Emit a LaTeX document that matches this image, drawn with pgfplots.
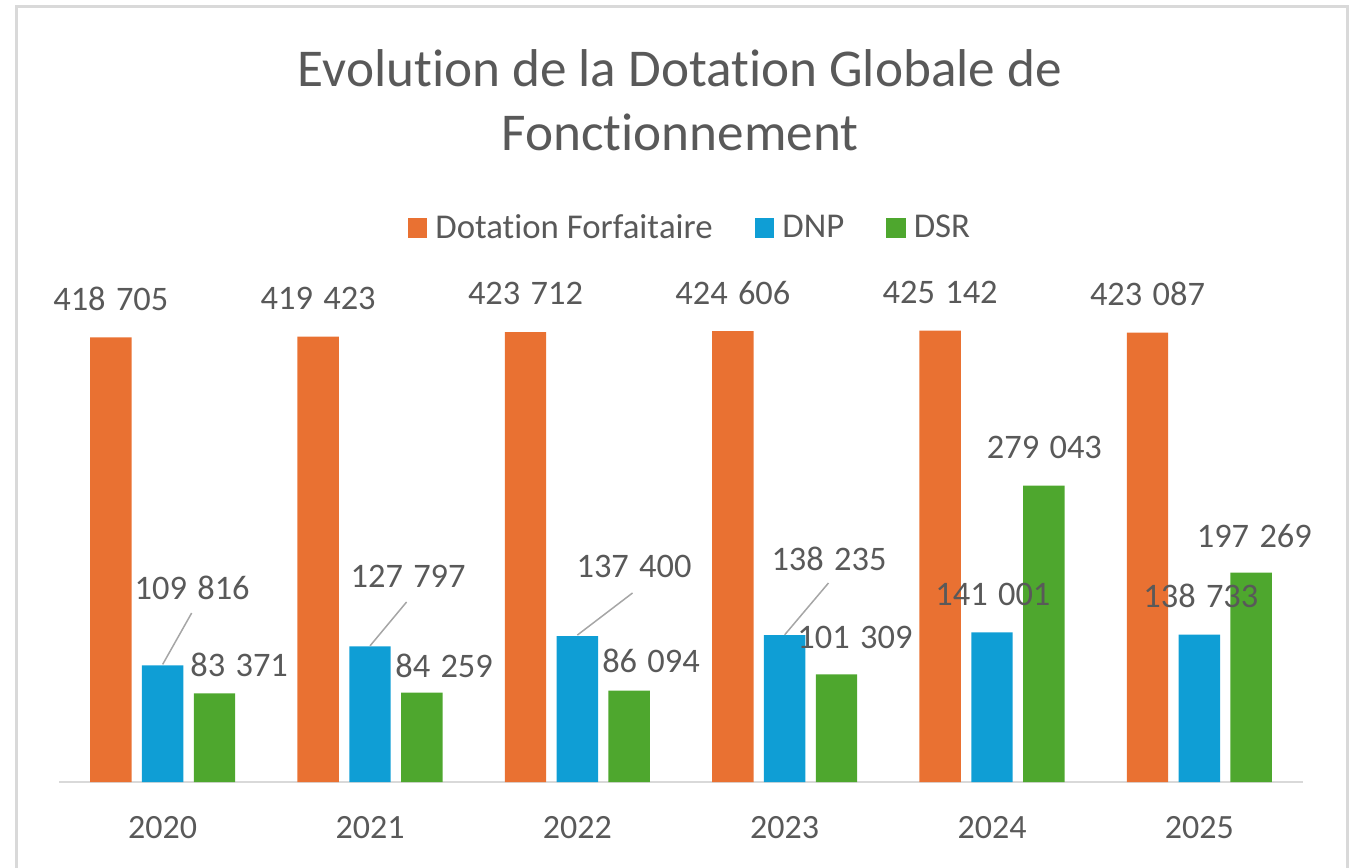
\documentclass[border=0pt]{standalone}
\usepackage{fontspec}
\setmainfont{Carlito}[Ligatures={NoCommon,NoContextual,NoRare}]
\usepackage{pgfplots}
\usepackage{pgfplotstable}
\pgfplotsset{compat=1.18}
\definecolor{dforange}{HTML}{E97132}
\definecolor{dnpblue}{HTML}{0F9ED5}
\definecolor{dsrgreen}{HTML}{4EA72E}
\definecolor{txt}{HTML}{595959}
\definecolor{framegray}{HTML}{D9D9D9}
\definecolor{leadergray}{HTML}{A6A6A6}

% offsets dx, dy of the data labels in px (1px = 0.5pt), from the bar top
\pgfplotstableread{
x y dx dy
0 418705 0 38.5
1 419423 0 38.5
2 423712 0 38.5
3 424606 0 38.5
4 425142 0 38.5
5 423087 0 38.5
}\dataDF
\pgfplotstableread{
x y dx dy
0 109816 29.5 77.9
1 127797 38.1 70.3
2 137400 56.7 70.1
3 138235 44.3 76.7
4 141001 0.9 38.3
5 138733 1.5 38.7
}\dataDNP
\pgfplotstableread{
x y dx dy
0 83371 24.65 29
1 84259 22.25 26.5
2 86094 21.85 29.6
3 101309 18.45 36.9
4 279043 0.55 38.2
5 197269 3.15 36.5
}\dataDSR

\begin{document}
\begin{tikzpicture}[x=1pt,y=1pt]
\useasboundingbox (0,0) rectangle (676,-433.5);
\clip (0,0) rectangle (676,-433.5);
\draw[framegray, line width=1.5pt] (8,-450) -- (8,-3) -- (673.5,-3) -- (673.5,-450);
\node[anchor=base, font=\fontsize{26.6}{32}\selectfont, text=txt, inner sep=0pt] at (340,-43.35) {Evolut\kern0pt ion de la Dotat\kern0pt ion Globale de};
\node[anchor=base, font=\fontsize{26.6}{32}\selectfont, text=txt, inner sep=0pt] at (340,-75) {Fonctionnement};
\begin{axis}[
  at={(29.5pt,-391pt)}, anchor=south west,
  scale only axis, width=622pt, height=238.95pt,
  xmin=-0.5, xmax=5.5, ymin=0, ymax=450000,
  axis y line=none, axis x line*=bottom,
  x axis line style={draw=framegray, line width=1.2pt},
  xtick={0,1,2,3,4,5}, xticklabels={2020,2021,2022,2023,2024,2025},
  major tick length=0pt,
  xticklabel style={font=\fontsize{17}{20}\selectfont, text=txt, anchor=center, yshift=-22.75pt},
  ybar, bar width=0.2,
  clip=false,
  /pgf/number format/.cd, fixed, precision=0, assume math mode=true, 1000 sep={\hspace{0.3em}},
  /pgfplots/.cd,
  legend style={at={(0.5064,1.159)}, anchor=center, draw=none, fill=none,
    legend columns=3, font=\fontsize{17.4}{20}\selectfont, text=txt,
    nodes={inner sep=0pt},
    /tikz/every odd column/.append style={column sep=4pt},
    /tikz/every even column/.append style={column sep=21pt}},
  legend image code/.code={\fill[#1] (0pt,-4.9pt) rectangle (9.8pt,4.9pt);},
]
\addplot[fill=dforange, draw=none, bar shift=-0.25] table[x=x,y=y]{\dataDF};
\addplot[fill=dnpblue, draw=none, bar shift=0] table[x=x,y=y]{\dataDNP};
\addplot[fill=dsrgreen, draw=none, bar shift=0.25] table[x=x,y=y]{\dataDSR};
\legend{Dotat\kern0pt ion Forfait\kern0pt aire, DNP, DSR}
% data labels
\addplot[draw=none, fill=none, bar shift=0, forget plot,
  visualization depends on={\thisrow{dx} \as \dx},
  visualization depends on={\thisrow{dy} \as \dy},
  nodes near coords,
  every node near coord/.style={anchor=center, xshift=\dx*0.5pt, yshift=\dy*0.5pt, text=txt, font=\fontsize{17.2}{20}\selectfont}]
  table[x expr=\thisrow{x}-0.25,y=y]{\dataDF};
\addplot[draw=none, fill=none, bar shift=0, forget plot,
  visualization depends on={\thisrow{dx} \as \dx},
  visualization depends on={\thisrow{dy} \as \dy},
  nodes near coords,
  every node near coord/.style={anchor=center, xshift=\dx*0.5pt, yshift=\dy*0.5pt, text=txt, font=\fontsize{17.2}{20}\selectfont}]
  table[x expr=\thisrow{x}+0.25,y=y]{\dataDSR};
\addplot[draw=none, fill=none, bar shift=0, forget plot,
  visualization depends on={\thisrow{dx} \as \dx},
  visualization depends on={\thisrow{dy} \as \dy},
  nodes near coords,
  every node near coord/.style={anchor=center, xshift=\dx*0.5pt, yshift=\dy*0.5pt, text=txt, font=\fontsize{17.2}{20}\selectfont}]
  table[x=x,y=y]{\dataDNP};
% leader lines
\draw[leadergray, line width=0.75pt] (axis cs:0,109816) ++(0pt,0.5pt) -- ++(14.5pt,25.7pt);
\draw[leadergray, line width=0.75pt] (axis cs:1,127797) ++(0pt,0.2pt) -- ++(18.3pt,21.95pt);
\draw[leadergray, line width=0.75pt] (axis cs:2,137400) ++(0pt,0.5pt) -- ++(27.6pt,21.05pt);
\draw[leadergray, line width=0.75pt] (axis cs:3,138235) ++(0pt,0.2pt) -- ++(21.9pt,25.9pt);
\end{axis}
\end{tikzpicture}
\end{document}
